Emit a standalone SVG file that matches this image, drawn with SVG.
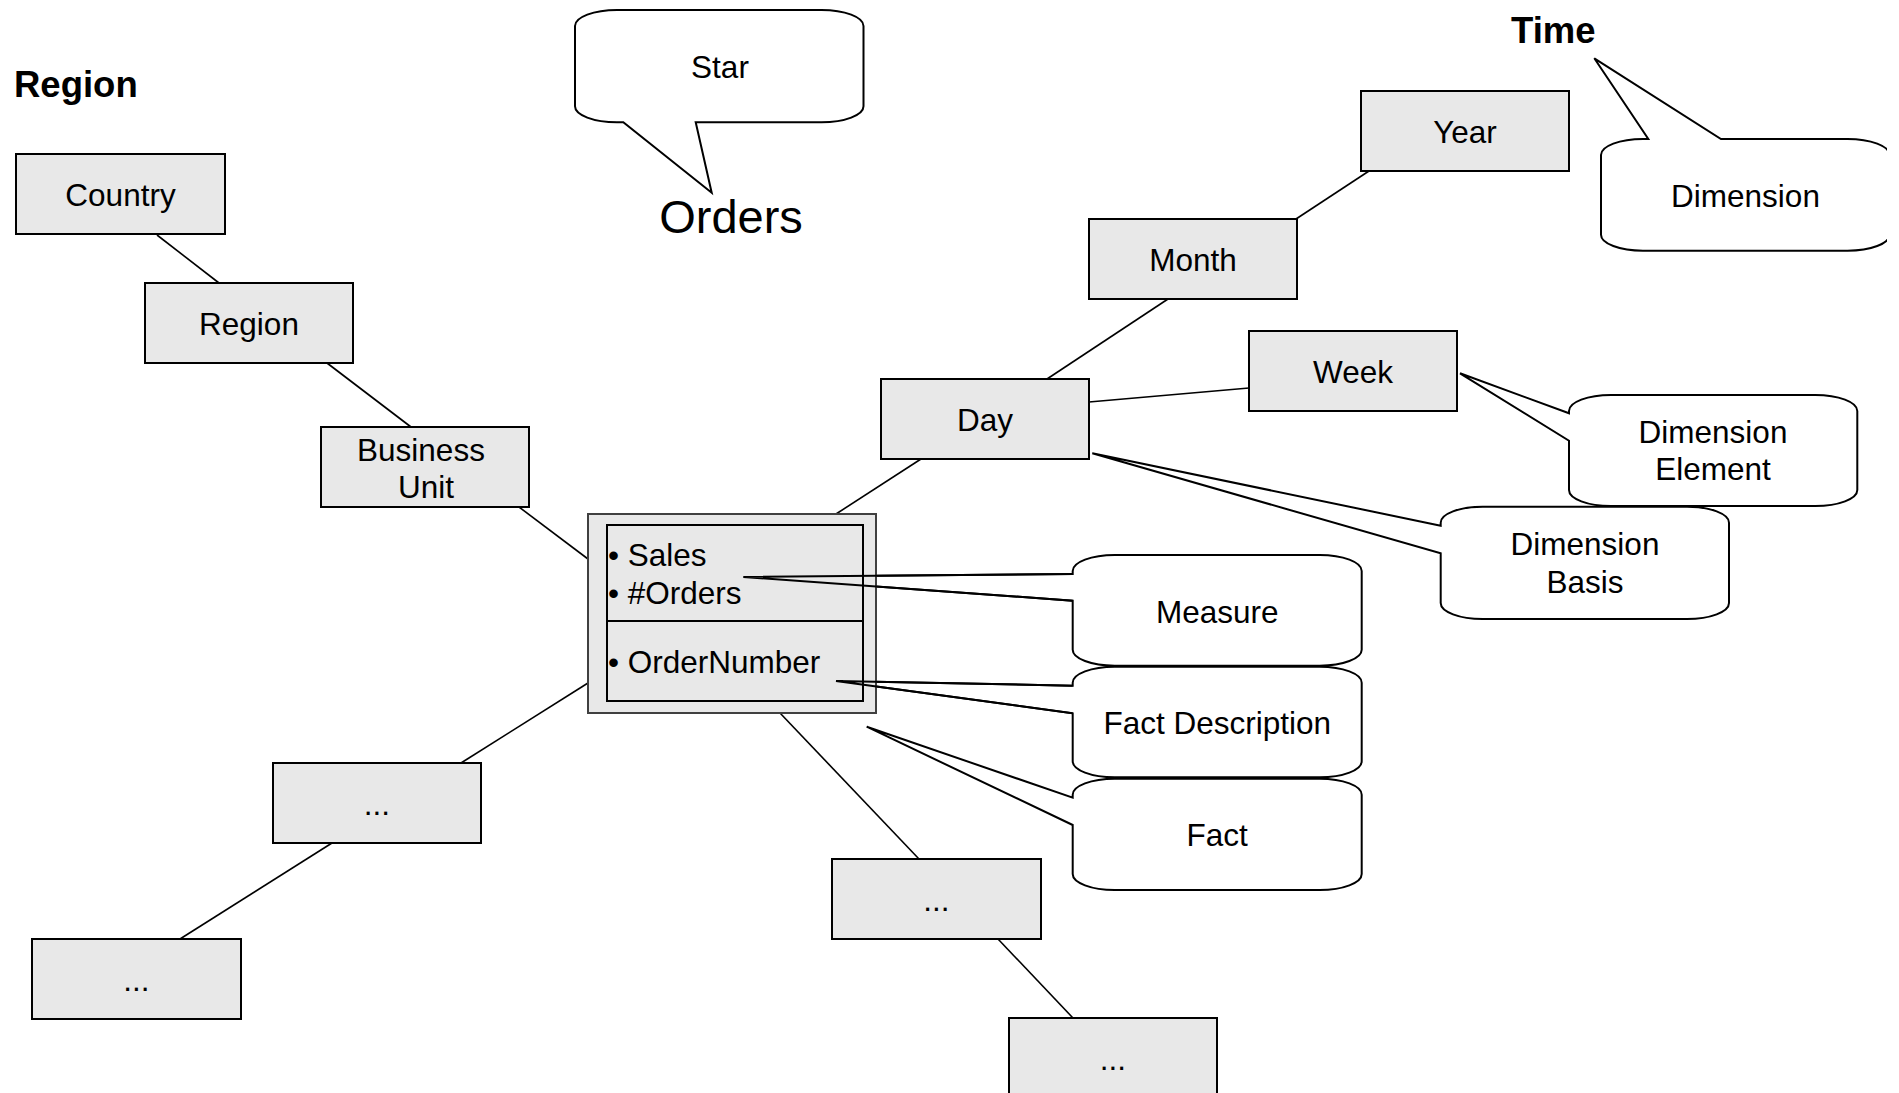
<svg xmlns="http://www.w3.org/2000/svg" width="1899" height="1093" viewBox="0 0 1899 1093">
<style>
text{font-family:"Liberation Sans",Arial,Helvetica,sans-serif;fill:#000}
.lbl{font-size:31.5px;text-anchor:middle}
.item{font-size:31.5px}
.title{font-size:36.5px;font-weight:bold}
.box{fill:#e8e8e8;stroke:#000;stroke-width:2}
.call{fill:#fff;stroke:#000;stroke-width:2;stroke-linejoin:miter}
.tail{fill:none;stroke:#000;stroke-width:2}
.conn line{stroke:#000;stroke-width:1.6}
</style>
<defs>
<clipPath id="clipR"><rect x="0" y="0" width="1887" height="1093"/></clipPath>
</defs>
<rect x="0" y="0" width="1899" height="1093" fill="#fff"/>

<g id="connectors" class="conn">
<line x1="157" y1="235" x2="219" y2="283"/>
<line x1="327" y1="363" x2="411" y2="427"/>
<line x1="519" y1="507" x2="588" y2="559"/>
<line x1="1296" y1="219" x2="1369" y2="171"/>
<line x1="1168" y1="299" x2="1047" y2="379"/>
<line x1="1089" y1="402" x2="1249" y2="388"/>
<line x1="921" y1="459" x2="836" y2="514"/>
<line x1="588" y1="683" x2="461" y2="763"/>
<line x1="332" y1="843" x2="180" y2="939"/>
<line x1="780" y1="713" x2="919" y2="859"/>
<line x1="998" y1="939" x2="1073" y2="1018"/>
</g>

<g id="title-region"><text class="title" x="14" y="97">Region</text></g>
<g id="title-time"><text class="title" x="1511" y="43">Time</text></g>

<g id="callout-star">
<path class="call" d="M617,10 H821.5 A42,16 0 0 1 863.5,26 V106.3 A42,16 0 0 1 821.5,122.3 H695.7 L711.7,192.7 L623.3,122.3 H617 A42,16 0 0 1 575,106.3 V26 A42,16 0 0 1 617,10 Z"/>
<text class="lbl" x="720" y="78">Star</text>
</g>
<g id="orders-label"><text x="731" y="233" style="font-size:47px;text-anchor:middle">Orders</text></g>

<g id="callout-dimension" clip-path="url(#clipR)">
<path class="call" d="M1643,139 H1648.3 L1594.3,58.3 L1721,139 H1847.5 A42,16 0 0 1 1889.5,155 V234.7 A42,16 0 0 1 1847.5,250.7 H1643 A42,16 0 0 1 1601,234.7 V155 A42,16 0 0 1 1643,139 Z"/>
<text class="lbl" x="1745.5" y="206.5">Dimension</text>
</g>

<g id="callout-dim-element">
<path class="call" d="M1611,395 H1815.3 A42,16 0 0 1 1857.3,411 V490 A42,16 0 0 1 1815.3,506 H1611 A42,16 0 0 1 1569,490 V440.7 L1460,373.3 L1569,413.3 V411 A42,16 0 0 1 1611,395 Z"/>
<text class="lbl" x="1713" y="443.3">Dimension</text>
<text class="lbl" x="1713" y="480.3">Element</text>
</g>

<g id="callout-dim-basis">
<path class="call" d="M1482.7,506.7 H1687 A42,16 0 0 1 1729,522.7 V603 A42,16 0 0 1 1687,619 H1482.7 A42,16 0 0 1 1440.7,603 V553.3 L1092.3,453.3 L1440.7,525.7 V522.7 A42,16 0 0 1 1482.7,506.7 Z"/>
<text class="lbl" x="1585" y="555">Dimension</text>
<text class="lbl" x="1585" y="593">Basis</text>
</g>

<g id="callout-measure">
<path class="call" d="M1114.7,555 H1319.7 A42,16 0 0 1 1361.7,571 V649.7 A42,16 0 0 1 1319.7,665.7 H1114.7 A42,16 0 0 1 1072.7,649.7 V600.7 L743.3,577 L1072.7,574 V571 A42,16 0 0 1 1114.7,555 Z"/>
<text class="lbl" x="1217.2" y="623">Measure</text>
</g>

<g id="callout-fact-description">
<path class="call" d="M1114.7,666.7 H1319.7 A42,16 0 0 1 1361.7,682.7 V761.3 A42,16 0 0 1 1319.7,777.3 H1114.7 A42,16 0 0 1 1072.7,761.3 V713.3 L836,681 L1072.7,685.7 V682.7 A42,16 0 0 1 1114.7,666.7 Z"/>
<text class="lbl" x="1217.2" y="733.5">Fact Description</text>
</g>

<g id="callout-fact">
<path class="call" d="M1114.7,778.7 H1319.7 A42,16 0 0 1 1361.7,794.7 V874 A42,16 0 0 1 1319.7,890 H1114.7 A42,16 0 0 1 1072.7,874 V825 L866.7,726.7 L1072.7,797.7 V794.7 A42,16 0 0 1 1114.7,778.7 Z"/>
<text class="lbl" x="1217.2" y="845.5">Fact</text>
</g>

<g id="node-country"><rect class="box" x="16" y="154" width="209" height="80"/><text class="lbl" x="120.5" y="206">Country</text></g>
<g id="node-region"><rect class="box" x="145" y="283" width="208" height="80"/><text class="lbl" x="249" y="334.5">Region</text></g>
<g id="node-business-unit"><rect class="box" x="321" y="427" width="208" height="80"/><text class="lbl" x="421" y="460.7">Business</text><text class="lbl" x="426" y="498.2">Unit</text></g>
<g id="node-year"><rect class="box" x="1361" y="91" width="208" height="80"/><text class="lbl" x="1465" y="143">Year</text></g>
<g id="node-month"><rect class="box" x="1089" y="219" width="208" height="80"/><text class="lbl" x="1193" y="270.7">Month</text></g>
<g id="node-day"><rect class="box" x="881" y="379" width="208" height="80"/><text class="lbl" x="985" y="430.7">Day</text></g>
<g id="node-week"><rect class="box" x="1249" y="331" width="208" height="80"/><text class="lbl" x="1353" y="382.7">Week</text></g>

<g id="node-orders">
<rect x="588" y="514" width="288" height="199" fill="#e8e8e8" stroke="#404040" stroke-width="2"/>
<rect class="box" x="607" y="525" width="256" height="176"/>
<line x1="607" y1="621" x2="863" y2="621" stroke="#000" stroke-width="2"/>
<text class="item" x="608" y="566">• Sales</text>
<text class="item" x="608" y="604">• #Orders</text>
<text class="item" x="608" y="673">• OrderNumber</text>
</g>

<g id="callout-tails-over-orders">
<polyline class="tail" points="1072.7,574 743.3,577 1072.7,600.7"/>
<polyline class="tail" points="1072.7,685.7 836,681 1072.7,713.3"/>
</g>

<g id="node-more-1"><rect class="box" x="273" y="763" width="208" height="80"/><text class="lbl" x="377" y="814.5">...</text></g>
<g id="node-more-2"><rect class="box" x="32" y="939" width="209" height="80"/><text class="lbl" x="136.5" y="990.5">...</text></g>
<g id="node-more-3"><rect class="box" x="832" y="859" width="209" height="80"/><text class="lbl" x="936.5" y="910.5">...</text></g>
<g id="node-more-4"><rect class="box" x="1009" y="1018" width="208" height="80"/><text class="lbl" x="1113" y="1069.5">...</text></g>
</svg>
